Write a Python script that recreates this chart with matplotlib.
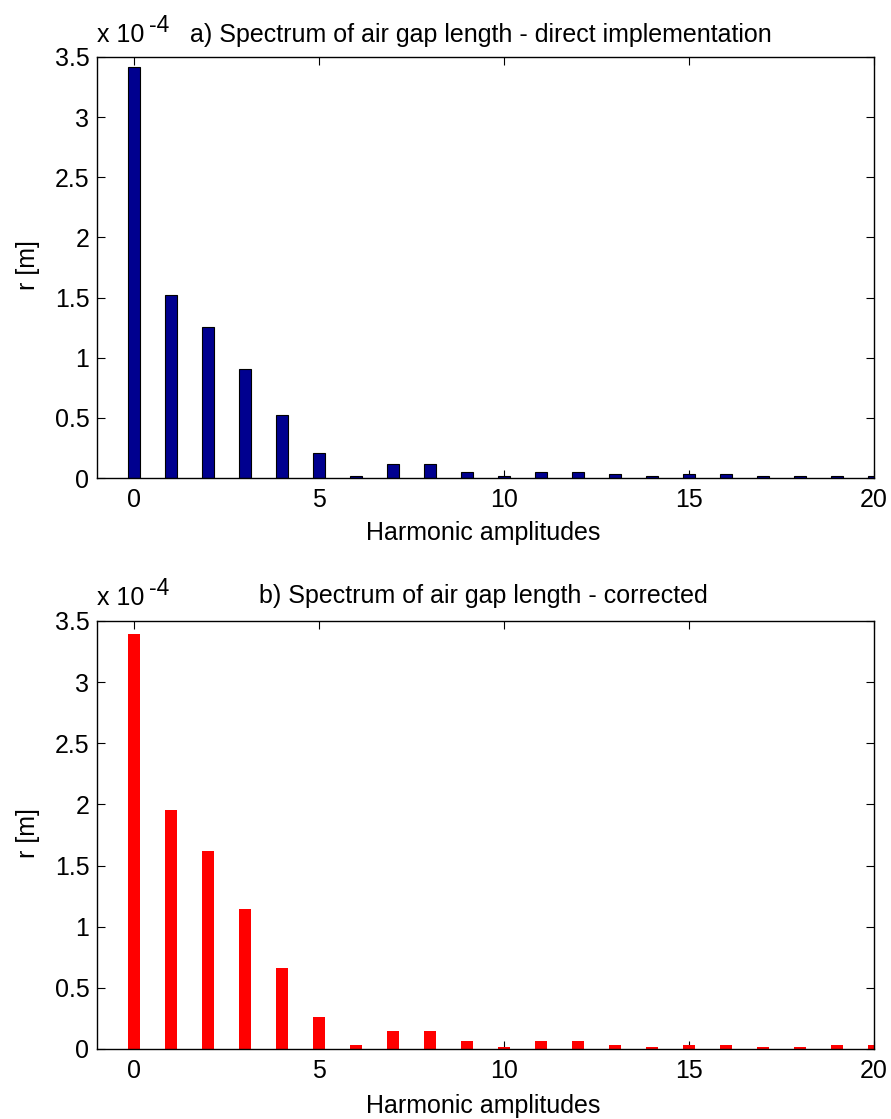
import matplotlib
matplotlib.use("Agg")
import matplotlib.pyplot as plt
import numpy as np

plt.rcParams['font.family'] = ['Liberation Sans', 'DejaVu Sans']
plt.rcParams['font.size'] = 18

# Harmonic order
harmonics = list(range(21))

# Amplitudes in units of 1e-4 m
direct_amp = [3.42, 1.52, 1.256, 0.906, 0.52, 0.206, 0.019, 0.117, 0.117, 0.053,
              0.019, 0.053, 0.053, 0.036, 0.019, 0.036, 0.036, 0.019, 0.019, 0.019,
              0.014]
corrected_amp = [3.39, 1.953, 1.623, 1.148, 0.661, 0.258, 0.032, 0.145, 0.145, 0.065,
                 0.016, 0.065, 0.065, 0.032, 0.016, 0.032, 0.032, 0.016, 0.016, 0.032,
                 0.032]

xticks = [0, 5, 10, 15, 20]
yticks = [0, 0.5, 1, 1.5, 2, 2.5, 3, 3.5]
ytick_labels = ['0', '0.5', '1', '1.5', '2', '2.5', '3', '3.5']

W, H = 891, 1119
fig = plt.figure(figsize=(W / 100, H / 100), dpi=100)


def px_axes(left, top, right, bottom):
    return fig.add_axes([left / W, 1 - bottom / H, (right - left) / W, (bottom - top) / H])


def style(ax):
    ax.set_xlim(-1, 20)
    ax.set_ylim(0, 3.5)
    ax.set_xticks(xticks)
    ax.set_xticklabels([str(t) for t in xticks])
    ax.set_yticks(yticks)
    ax.set_yticklabels(ytick_labels)
    ax.tick_params(direction='in', length=6, width=0.8, top=True, right=True)
    ax.tick_params(axis='x', pad=7.5)
    ax.tick_params(axis='y', pad=5.5)
    for s in ax.spines.values():
        s.set_linewidth(1.0)


ax1 = px_axes(97, 57, 874, 478)
ax1.bar(harmonics, direct_amp, width=0.33, color='#00008F', edgecolor='black',
        linewidth=0.8, zorder=2)
style(ax1)

ax2 = px_axes(97, 621, 874, 1049)
ax2.bar(harmonics, corrected_amp, width=0.33, color='#FF0000', edgecolor='none',
        zorder=2)
style(ax2)

# Titles, exponent labels and axis labels
fig.text(481 / W, 1 - 42 / H, 'a) Spectrum of air gap length - direct implementation',
         ha='center', va='baseline')
fig.text(483 / W, 1 - 603 / H, 'b) Spectrum of air gap length - corrected',
         ha='center', va='baseline')

for base_y in (42, 605):
    fig.text(97 / W, 1 - base_y / H, 'x 10', ha='left', va='baseline')
    fig.text(149 / W, 1 - (base_y - 10) / H, '-4', ha='left', va='baseline', fontsize=16.5)

fig.text(483 / W, 1 - 540 / H, 'Harmonic amplitudes', ha='center', va='baseline')
fig.text(483 / W, 1 - 1113 / H, 'Harmonic amplitudes', ha='center', va='baseline')

fig.text(28 / W, 1 - 265 / H, 'r [m]', rotation=90, ha='center', va='center')
fig.text(28 / W, 1 - 833 / H, 'r [m]', rotation=90, ha='center', va='center')

fig.savefig('out.png', dpi=100)
